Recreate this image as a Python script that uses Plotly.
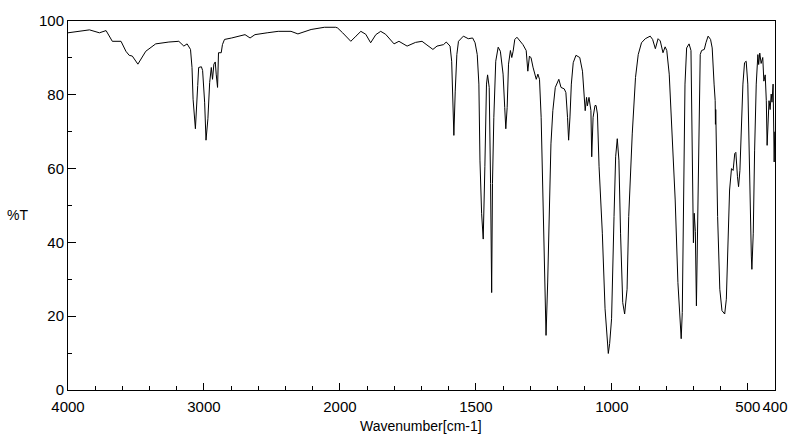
import plotly.graph_objects as go

# Wavenumber (cm-1) and %T
wavenumber = [
    4000, 3842, 3769, 3720, 3674, 3610, 3574, 3550, 3527, 3486, 3428, 3355, 3258, 3185,
    3148, 3124, 3099, 3088, 3080, 3063, 3046, 3039, 3019, 3010, 2995, 2985, 2971, 2958,
    2946, 2937, 2927, 2917, 2910, 2900, 2893, 2873, 2864, 2849, 2796, 2698, 2661, 2625,
    2535, 2454, 2360, 2309, 2212, 2114, 2031, 2017,
    1990, 1960, 1941, 1923, 1905, 1887, 1868, 1850, 1832, 1801, 1783, 1753, 1722, 1698,
    1680, 1658, 1643, 1619, 1609, 1595, 1589, 1585, 1582, 1581, 1576, 1570, 1564, 1546,
    1528, 1512, 1503, 1495, 1489, 1485, 1479, 1473, 1467, 1461, 1457, 1451, 1446, 1442,
    1439, 1434, 1427, 1418, 1410, 1400, 1394, 1390, 1385, 1380, 1373, 1368, 1363, 1357,
    1349, 1339, 1327, 1315, 1309, 1303, 1297, 1290, 1278, 1272, 1266, 1260, 1254, 1248,
    1242, 1236, 1230, 1224, 1217, 1208, 1195, 1187, 1175, 1169, 1163, 1159, 1154, 1149,
    1142, 1132, 1118, 1108, 1098, 1093, 1090, 1084, 1077, 1074, 1069, 1062, 1058, 1053,
    1047, 1035, 1025, 1017, 1013, 1008, 1001, 992, 986, 980, 974, 968, 960, 953,
    944, 938, 925, 913, 903, 891, 877, 859, 850, 840, 830, 822, 812, 804,
    798, 789, 779, 767, 757, 749, 745, 741, 737, 731, 725, 716, 709, 704,
    700, 697, 693, 689, 684, 680, 675, 670, 660, 654, 646, 637, 631, 624,
    620, 619, 618, 611, 603, 595, 585, 579, 573, 567, 560, 554, 548, 544,
    538, 534, 529, 524, 518, 512, 506, 500, 494, 487, 485, 480, 475, 469,
    463, 460, 456, 451, 445, 441, 436, 432, 429, 425, 422, 418, 414, 411,
    407, 403, 401,
]
transmittance = [
    96.8, 97.6, 96.8, 97.4, 94.5, 94.5, 91.8, 90.7, 90.5, 88.3, 91.8, 93.8, 94.3, 94.5,
    93.2, 93.8, 92.3, 87.4, 78.8, 70.8, 82.5, 87.4, 87.6, 86.6, 78.0, 67.7, 73.5, 83.3,
    87.4, 84.2, 88.3, 88.9, 85.6, 82.0, 91.4, 91.4, 93.6, 95.0, 95.4, 96.3, 95.4, 96.3,
    96.8, 97.2, 97.2, 96.5, 97.7, 98.3, 98.3, 98.1,
    96.8, 94.5, 95.9, 97.2, 96.4, 94.1, 96.3, 97.2, 96.4, 93.8, 94.5, 93.2, 94.2, 94.5,
    93.5, 92.3, 93.2, 93.6, 94.3, 93.2, 89.1, 81.1, 73.0, 69.0, 81.0, 90.9, 94.5, 95.9,
    95.2, 95.4, 94.1, 90.9, 82.9, 62.3, 47.9, 40.9, 60.5, 82.9, 85.4, 82.0, 56.0, 26.4,
    56.0, 73.9, 89.1, 92.9, 91.8, 85.6, 76.6, 70.8, 76.6, 88.3, 92.0, 90.1, 91.8, 95.0,
    95.6, 94.6, 93.6, 92.0, 86.4, 90.5, 90.0, 87.5, 84.2, 85.6, 84.2, 73.9, 51.5, 29.1,
    14.8, 29.0, 50.6, 66.7, 75.7, 82.0, 84.2, 82.0, 81.6, 80.6, 73.9, 67.7, 74.0, 82.9,
    88.7, 90.7, 90.1, 86.4, 75.7, 79.3, 77.0, 79.3, 75.7, 63.2, 73.9, 77.1, 77.1, 74.8,
    60.5, 42.5, 22.0, 12.1, 9.9, 12.6, 19.3, 47.0, 63.2, 68.1, 62.3, 42.5, 23.7, 20.6,
    27.3, 47.0, 69.4, 84.7, 90.9, 94.1, 95.2, 95.9, 95.0, 92.5, 95.2, 94.6, 91.4, 93.0,
    92.0, 85.6, 69.4, 51.5, 29.1, 17.5, 13.9, 21.0, 42.5, 82.9, 92.7, 93.8, 92.0, 69.4,
    39.9, 47.9, 43.0, 22.8, 47.0, 73.9, 90.9, 92.0, 92.3, 94.1, 95.9, 95.0, 92.7, 82.9,
    78.4, 72.0, 76.0, 47.0, 27.3, 21.5, 20.6, 24.6, 38.1, 54.2, 60.0, 59.5, 64.1, 64.4,
    57.8, 55.1, 59.5, 69.4, 82.9, 88.7, 89.1, 82.9, 56.0, 36.3, 32.7, 42.5, 65.0, 82.9,
    90.9, 88.2, 91.3, 88.5, 90.1, 83.7, 85.4, 78.4, 66.3, 76.0, 78.4, 76.0, 80.2, 78.0,
    82.9, 61.8, 70.0,
]

x_tick_values = [4000, 3000, 2000, 1500, 1000, 500, 400]
x_tick_labels = ["4000", "3000", "2000", "1500", "1000", "500", "400"]
y_tick_values = [0, 20, 40, 60, 80, 100]


def scale_pos(wn):
    # the spectrometer chart doubles its scale below 2000 cm-1
    return 4000 - wn if wn >= 2000 else 2000 + 2 * (2000 - wn)


xs = [scale_pos(w) for w in wavenumber]
major_pos = [scale_pos(w) for w in x_tick_values]
minor_pos = [p for p in range(200, 5200, 200) if p not in major_pos]

FONT = "Liberation Sans, Arial, sans-serif"
TICK_SIZE = 15

fig = go.Figure(go.Scatter(x=xs, y=transmittance, mode="lines",
                           line=dict(color="black", width=1), hoverinfo="skip"))

fig.update_layout(
    width=800, height=441, autosize=False,
    margin=dict(l=68, r=19, t=18, b=51),
    paper_bgcolor="white", plot_bgcolor="white",
    showlegend=False,
    font=dict(family=FONT, size=TICK_SIZE, color="black"),
)
fig.update_xaxes(
    range=[0, 5200], showgrid=False, zeroline=False,
    showline=True, linecolor="black", linewidth=1, mirror=True,
    tickmode="array", tickvals=major_pos, ticktext=x_tick_labels, tickangle=0,
    ticks="inside", ticklen=7, tickcolor="black", ticklabelstandoff=3,
    minor=dict(tickmode="array", tickvals=minor_pos, ticks="inside", ticklen=4,
               tickcolor="black", showgrid=False),
    tickfont=dict(family=FONT, size=TICK_SIZE),
)
fig.update_yaxes(
    range=[0, 100], showgrid=False, zeroline=False,
    showline=True, linecolor="black", linewidth=1, mirror=True,
    tickmode="array", tickvals=y_tick_values,
    ticks="inside", ticklen=8, tickcolor="black",
    minor=dict(tickmode="array", tickvals=[10, 30, 50, 70, 90], ticks="inside",
               ticklen=4, tickcolor="black", showgrid=False),
    tickfont=dict(family=FONT, size=TICK_SIZE),
)
fig.add_annotation(text="%T", xref="paper", yref="paper",
                   x=(17 - 68) / 713, y=(390 - 214) / 372, showarrow=False,
                   font=dict(family=FONT, size=14), xanchor="center", yanchor="middle")
fig.add_annotation(text="Wavenumber[cm-1]", xref="paper", yref="paper",
                   x=(424 - 68) / 713, y=-(426 - 390) / 372, showarrow=False,
                   font=dict(family=FONT, size=14), xanchor="center", yanchor="middle")

fig.write_html("out.html")
